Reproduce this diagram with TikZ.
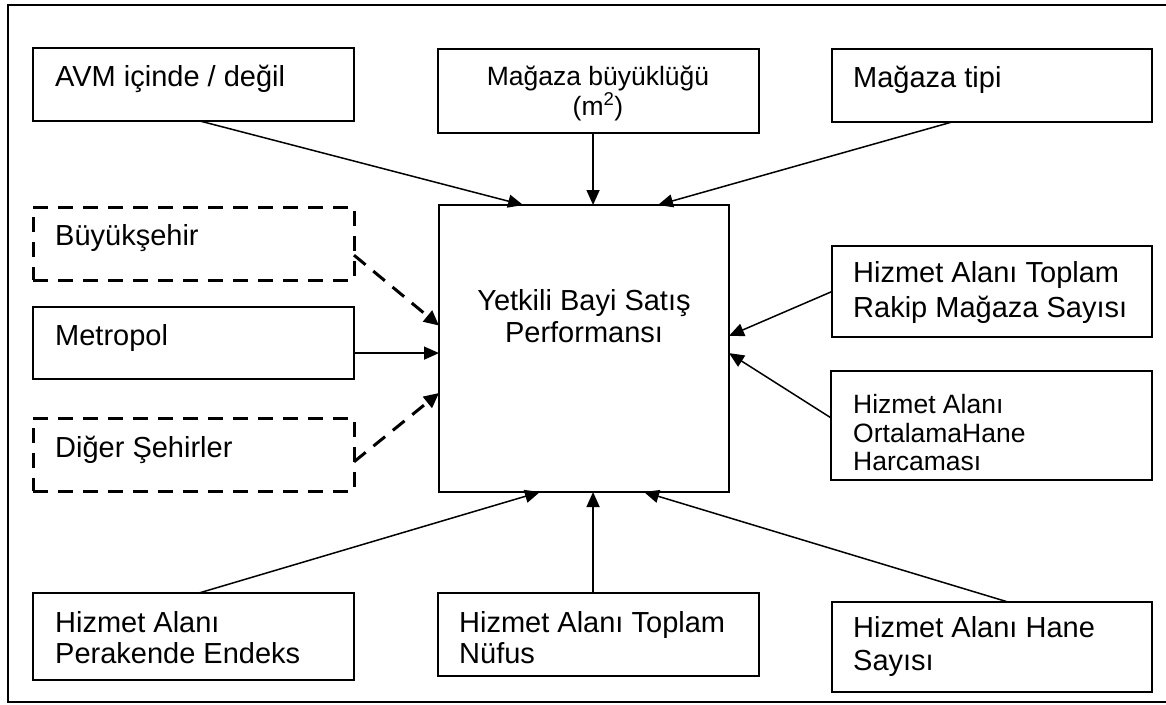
\documentclass[tikz,border=0pt]{standalone}
\usepackage{fontspec}
\setmainfont{Liberation Sans}
\usetikzlibrary{arrows.meta,calc}
\begin{document}
\begin{tikzpicture}[x=1pt,y=-1pt,
  box/.style={draw, line width=2pt, inner sep=0pt, outer sep=0pt},
  dbox/.style={box, line width=3pt, dash pattern=on 15pt off 10pt},
  big/.style={inner sep=0pt, font=\fontsize{29}{33}\selectfont},
  mid/.style={inner sep=0pt, font=\fontsize{26.5}{29}\selectfont},
  arr/.style={line width=1.5pt, -{Triangle[length=15pt,width=13pt]}},
  darr/.style={line width=3pt, dash pattern=on 15pt off 10pt, -{Triangle[length=15pt,width=14pt]}}]
\useasboundingbox (0,0) rectangle (1166,704);
% outer frame (right side lies outside the picture)
\draw[line width=2pt] (1170,5) -- (8,5) -- (8,702) -- (1170,702);

% boxes
\node[box, minimum width=321pt, minimum height=73pt] (avm) at (193.5,84.5) {};
\node[box, minimum width=321pt, minimum height=84pt] (mb) at (598.5,91) {};
\node[box, minimum width=320pt, minimum height=73pt] (mt) at (992,85.5) {};
\node[dbox, minimum width=321pt, minimum height=73pt] (bs) at (193.5,243.5) {};
\node[box, minimum width=321pt, minimum height=72pt] (mp) at (193.5,343) {};
\node[dbox, minimum width=321pt, minimum height=73pt] (ds) at (193.5,454.5) {};
\node[box, minimum width=290pt, minimum height=287pt] (c) at (584,348.5) {};
\node[box, minimum width=320pt, minimum height=91pt] (tr) at (992,291.5) {};
\node[box, minimum width=321pt, minimum height=109pt] (oh) at (991.5,425.5) {};
\node[box, minimum width=321pt, minimum height=87pt] (pe) at (193.5,636.5) {};
\node[box, minimum width=321pt, minimum height=83pt] (tn) at (598.5,634.5) {};
\node[box, minimum width=320pt, minimum height=90pt] (hs) at (992,647) {};

% texts
\node[big, anchor=base west] (avmT) at (55,86) {AVM içinde / değil};
\node[mid, anchor=base] (mbT1) at (598,85) {Mağaza büyüklüğü};
\node[mid, anchor=base] (mbT2) at (598,115) {(m\textsuperscript{2})};
\node[big, anchor=base west] (mtT) at (853,87) {Mağaza tipi};
\node[big, anchor=base west] (bsT) at (55,245) {Büyükşehir};
\node[big, anchor=base west] (mpT) at (55,345) {Metropol};
\node[big, anchor=base west] (dsT) at (55,457) {Diğer Şehirler};
\node[big, anchor=base] (cT1) at (584,310) {Yetkili Bayi Satış};
\node[big, anchor=base] (cT2) at (584,342) {Performansı};
\node[big, anchor=base west] (trT1) at (853,282) {Hizmet Alanı Toplam};
\node[big, anchor=base west] (trT2) at (853,317) {Rakip Mağaza Sayısı};
\node[mid, anchor=base west] (ohT1) at (853,413) {Hizmet Alanı};
\node[mid, anchor=base west] (ohT2) at (853,442) {OrtalamaHane};
\node[mid, anchor=base west] (ohT3) at (853,470) {Harcaması};
\node[big, anchor=base west] (peT1) at (55,632) {Hizmet Alanı};
\node[big, anchor=base west] (peT2) at (55,663) {Perakende Endeks};
\node[big, anchor=base west] (tnT1) at (459,632) {Hizmet Alanı Toplam};
\node[big, anchor=base west] (tnT2) at (459,663) {Nüfus};
\node[big, anchor=base west] (hsT1) at (853,637) {Hizmet Alanı Hane};
\node[big, anchor=base west] (hsT2) at (853,670) {Sayısı};

% connectors
\draw[arr] ($(avm.south west)!0.52!(avm.south east)$) -- ($(c.north west)!0.29!(c.north east)$);
\coordinate (mbs) at ($(mb.south west)!0.483!(mb.south east)$);
\draw[arr] (mbs) -- (mbs |- c.north);
\draw[arr] ($(mt.south west)!0.375!(mt.south east)$) -- ($(c.north west)!0.755!(c.north east)$);
\draw[darr] ($(bs.north east)!0.66!(bs.south east)$) -- ($(c.north west)!0.42!(c.south west)$);
\coordinate (mpe) at ($(mp.north east)!0.64!(mp.south east)$);
\draw[arr] (mpe) -- (mpe -| c.west);
\draw[darr] ($(ds.north east)!0.6!(ds.south east)$) -- ($(c.north west)!0.655!(c.south west)$);
\draw[arr] (tr.west) -- ($(c.north east)!0.456!(c.south east)$);
\draw[arr] ($(oh.north west)!0.43!(oh.south west)$) -- ($(c.north east)!0.516!(c.south east)$);
\draw[arr] ($(pe.north west)!0.517!(pe.north east)$) -- ($(c.south west)!0.348!(c.south east)$);
\coordinate (tnn) at ($(tn.north west)!0.483!(tn.north east)$);
\draw[arr] (tnn) -- (tnn |- c.south);
\draw[arr] ($(hs.north west)!0.55!(hs.north east)$) -- ($(c.south west)!0.707!(c.south east)$);
\end{tikzpicture}
\end{document}
